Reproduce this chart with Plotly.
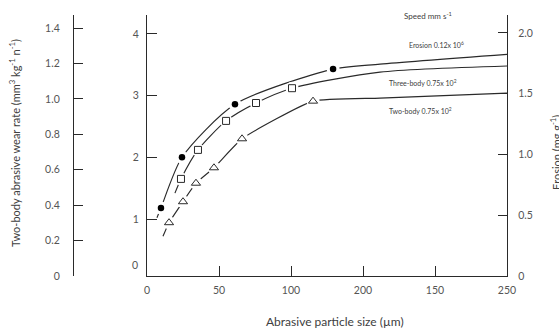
import plotly.graph_objects as go

W, H = 559, 328

# ---- data (x in µm axis units, y on inner left axis 0-4) ----
x_tick_vals = [0, 50, 100, 150, 200, 250]
x_tick_text = ["0", "50", "100", "200", "150", "250"]

ero_mx = [9.7, 24.3, 61.1, 129.2, 250.5]
ero_my = [1.18, 2.00, 2.86, 3.43, 3.67]
ero_lx = [6.9, 9.7, 24.3, 61.1, 129.2, 161.8, 250.5]
ero_ly = [1.02, 1.18, 2.00, 2.86, 3.43, 3.51, 3.67]

three_mx = [23.6, 35.4, 54.9, 75.7, 100.7, 250.5]
three_my = [1.65, 2.12, 2.59, 2.88, 3.12, 3.48]
three_lx = [19.4, 23.6, 35.4, 54.9, 75.7, 100.7, 161.8, 250.5]
three_ly = [1.42, 1.65, 2.12, 2.59, 2.88, 3.12, 3.38, 3.48]

two_mx = [15.3, 25.0, 34.0, 46.5, 66.0, 115.3]
two_my = [0.94, 1.28, 1.58, 1.83, 2.30, 2.91]
two_lx = [11.1, 15.3, 25.0, 34.0, 46.5, 66.0, 115.3, 161.8, 250]
two_ly = [0.72, 0.94, 1.28, 1.58, 1.83, 2.30, 2.91, 2.96, 3.04]

inner_ticks = [1, 2, 3, 4]
outer_ticks = [0, 0.2, 0.4, 0.6, 0.8, 1.0, 1.2, 1.4]
outer_text = ["0", "0.2", "0.4", "0.6", "0.8", "1.0", "1.2", "1.4"]
right_ticks = [0, 0.5, 1.0, 1.5, 2.0]
right_text = ["0", "0.5", "1.0", "1.5", "2.0"]

LINE = "#2a2a2a"
TXT = "#404040"
FONT = "Lato"

fig = go.Figure()

for lx, ly, sm in [(ero_lx, ero_ly, 0.7), (three_lx, three_ly, 0.7), (two_lx, two_ly, 0.45)]:
    fig.add_trace(go.Scatter(x=lx, y=ly, mode="lines",
                             line=dict(color=LINE, width=1.15, shape="spline", smoothing=sm),
                             hoverinfo="skip", showlegend=False))

# white halos to create gaps around markers
for mx, my in [(ero_mx[:-1], ero_my[:-1]), (three_mx[:-1], three_my[:-1]), (two_mx, two_my)]:
    fig.add_trace(go.Scatter(x=mx, y=my, mode="markers",
                             marker=dict(color="white", size=13, line=dict(width=0)),
                             hoverinfo="skip", showlegend=False, cliponaxis=False))

fig.add_trace(go.Scatter(x=ero_mx, y=ero_my, mode="markers", cliponaxis=False,
                         marker=dict(symbol="circle", color="black", size=6.5),
                         showlegend=False))
fig.add_trace(go.Scatter(x=three_mx, y=three_my, mode="markers", cliponaxis=False,
                         marker=dict(symbol="square-open", color=LINE, size=7,
                                     line=dict(width=1)),
                         showlegend=False))
fig.add_trace(go.Scatter(x=two_mx, y=two_my, mode="markers", cliponaxis=False,
                         marker=dict(symbol="triangle-up-open", color=LINE, size=8,
                                     line=dict(width=1)),
                         showlegend=False))

# invisible traces to materialise the extra axes
fig.add_trace(go.Scatter(x=[0], y=[0], yaxis="y2", mode="markers",
                         marker=dict(opacity=0), hoverinfo="skip", showlegend=False))
fig.add_trace(go.Scatter(x=[0], y=[0], yaxis="y3", mode="markers",
                         marker=dict(opacity=0), hoverinfo="skip", showlegend=False))

x0, x1 = 147 / W, 507 / W
y0, y1 = 1 - 276 / H, 1 - 15 / H
tickfont = dict(family=FONT, size=10.5, color="#555555")

fig.update_layout(
    width=W, height=H, margin=dict(l=0, r=0, t=0, b=0, autoexpand=False),
    paper_bgcolor="white", plot_bgcolor="white",
    font=dict(family=FONT, color=TXT),
    xaxis=dict(domain=[x0, x1], range=[0, 250], tickvals=x_tick_vals, ticktext=x_tick_text,
               ticks="inside", ticklen=10, tickcolor=LINE, tickwidth=1.2, automargin=False,
               showline=True, linecolor=LINE, linewidth=1.3, showgrid=False, zeroline=False,
               tickfont=tickfont, ticklabelstandoff=4),
    yaxis=dict(domain=[y0, y1], range=[(280.7 - 276) / 61.7, (280.7 - 15) / 61.7],
               tickvals=inner_ticks, ticks="inside", ticklen=10, tickcolor=LINE, tickwidth=1.2,
               showline=True, linecolor=LINE, linewidth=1.3, showgrid=False, zeroline=False,
               tickfont=tickfont, ticklabelstandoff=5, automargin=False),
    yaxis2=dict(overlaying="y", anchor="free", position=73 / W, side="left",
                range=[0, 1.474], tickvals=outer_ticks, ticktext=outer_text,
                ticks="inside", ticklen=9, tickcolor=LINE, tickwidth=1.2, automargin=False,
                showline=True, linecolor=LINE, linewidth=1.3, showgrid=False, zeroline=False,
                tickfont=tickfont, ticklabelstandoff=11),
    yaxis3=dict(overlaying="y", anchor="x", side="right",
                range=[0, 2.148], tickvals=right_ticks, ticktext=right_text,
                ticks="inside", ticklen=9, tickcolor=LINE, tickwidth=1.2, automargin=False,
                showline=True, linecolor=LINE, linewidth=1.3, showgrid=False, zeroline=False,
                tickfont=tickfont, ticklabelstandoff=8),
)

def px(xp, yp):
    return xp / W, 1 - yp / H

ann = []
def add(xp, yp, text, size, xanchor="center", angle=0, color=TXT):
    ax, ay = px(xp, yp)
    ann.append(dict(x=ax, y=ay, xref="paper", yref="paper", text=text, textangle=angle,
                    xanchor=xanchor, yanchor="middle", showarrow=False,
                    font=dict(family=FONT, size=size, color=color)))

add(140, 265, "0", 10.5, xanchor="right", color="#555555")
add(335, 321, "Abrasive particle size (µm)", 12)
add(14, 143, "Two-body abrasive wear rate (mm<sup>3</sup> kg<sup>-1</sup> n<sup>-1</sup>)", 11, angle=-90)
add(555, 153, "Erosion (mg g<sup>-1</sup>)", 11, angle=-90)
add(402, 15, "Speed mm s<sup>-1</sup>", 8, xanchor="left")
add(407, 44, "Erosion 0.12x 10<sup>6</sup>", 7, xanchor="left")
add(387, 82, "Three-body 0.75x 10<sup>2</sup>", 7, xanchor="left")
add(387, 110, "Two-body 0.75x 10<sup>2</sup>", 7, xanchor="left")
fig.update_layout(annotations=ann)

fig.write_html("out.html")
